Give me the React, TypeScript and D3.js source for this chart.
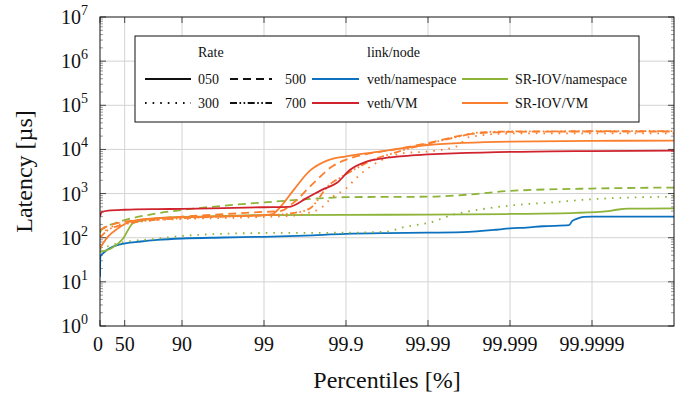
import React, {useEffect} from 'react';
import * as d3 from 'd3';

// x values are "nines": -log10(1 - p/100); y values are latency in µs
const percentileTicks = [0, 50, 90, 99, 99.9, 99.99, 99.999, 99.9999];
const yExponents = [0, 1, 2, 3, 4, 5, 6, 7];

const vethNs050 = [
    [0, 13], [0.005, 38], [0.04, 45], [0.22, 69], [0.5, 82], [0.7, 89], [1, 96], [1.5, 101],
    [2, 105], [2.5, 112], [3, 122], [3.5, 127], [4, 130], [4.5, 136], [4.8, 150], [5, 162],
    [5.2, 170], [5.4, 182], [5.72, 192], [5.76, 240], [5.82, 270], [5.9, 295], [6, 300], [7, 300],
];
const vethVm050 = [
    [0, 300], [0.02, 380], [0.1, 410], [0.3, 430], [0.7, 445], [1, 450], [1.5, 470], [2, 490],
    [2.3, 500], [2.52, 790], [2.7, 1200], [2.89, 1750], [3.05, 3450], [3.25, 5300], [3.45, 6300],
    [3.8, 7300], [4.15, 7900], [4.84, 8700], [5.5, 9000], [6, 9200], [7, 9400],
];
const sriovNs050 = [
    [0, 48], [0.14, 58], [0.28, 95], [0.4, 213], [0.5, 245], [0.7, 276], [1, 295], [1.5, 310],
    [2, 325], [3, 330], [4, 332], [5, 345], [5.8, 365], [6.2, 400], [6.3, 430], [6.45, 455], [7, 460],
];
const sriovNs500 = [
    [0, 130], [0.016, 150], [0.18, 213], [0.3, 250], [0.7, 357], [1, 425], [1.5, 530], [2, 630],
    [2.5, 740], [3, 830], [4, 850], [4.5, 950], [5, 1150], [6, 1300], [7, 1370],
];
const sriovNs300 = [
    [0, 55], [0.22, 75], [0.7, 95], [1, 110], [2, 128], [3, 130], [3.5, 137], [3.7, 173],
    [3.9, 200], [4, 215], [4.3, 330], [4.6, 425], [5, 535], [5.5, 630], [6, 745], [7, 850],
];
const sriovVm050 = [
    [0, 58], [0.1, 107], [0.22, 163], [0.38, 233], [0.7, 276], [1, 290], [1.5, 305], [2, 325],
    [2.1, 340], [2.2, 500], [2.36, 1200], [2.56, 3300], [2.76, 5500], [3, 7000], [3.41, 8900],
    [4, 12600], [5, 15000], [6, 15600], [7, 15800],
];
const sriovVm500 = [
    [0, 150], [0.1, 185], [0.3, 230], [0.7, 270], [1, 300], [1.5, 340], [2, 385], [2.2, 400],
    [2.35, 600], [2.6, 1700], [2.83, 4100], [2.96, 5500], [3.2, 7500], [3.6, 10000], [4, 14000],
    [4.5, 22000], [5, 25000], [6, 25500], [7, 25500],
];
const sriovVm300 = [
    [0, 107], [0.1, 160], [0.3, 210], [0.7, 250], [1, 265], [1.5, 280], [2, 295], [2.4, 320],
    [2.55, 370], [2.68, 450], [2.84, 850], [3, 1300], [3.13, 2300], [3.3, 4100], [3.5, 6500],
    [3.7, 8200], [4, 9000], [4.35, 11700], [4.5, 19000], [5, 23000], [7, 23000],
];
const sriovVm700 = [
    [0, 100], [0.1, 150], [0.3, 200], [0.7, 255], [1, 275], [1.5, 300], [2, 320], [2.3, 350],
    [2.55, 450], [2.8, 1600], [2.93, 2300], [3.1, 3500], [3.3, 5500], [3.6, 8500], [4, 13500],
    [4.4, 20000], [4.6, 24000], [5, 25500], [7, 26000],
];

const colors = {
    blue: '#0c72c0',
    red: '#d0232e',
    green: '#8db439',
    orange: '#fa7f2e',
};

const dashes = {
    '050': null,
    '500': '8 5',
    '300': '1.6 6',
    '700': '7 2.5 1.6 2.5 1.6 2.5',
};

const series = [
    {data: vethNs050, color: colors.blue, rate: '050'},
    {data: sriovNs050, color: colors.green, rate: '050'},
    {data: sriovNs500, color: colors.green, rate: '500'},
    {data: sriovNs300, color: colors.green, rate: '300'},
    {data: sriovVm300, color: colors.orange, rate: '300'},
    {data: sriovVm700, color: colors.orange, rate: '700'},
    {data: sriovVm500, color: colors.orange, rate: '500'},
    {data: sriovVm050, color: colors.orange, rate: '050'},
    {data: vethVm050, color: colors.red, rate: '050'},
];

const legendItems = [
    {x: 145, w: 46, tx: 198, row: 0, label: '050', stroke: '#111', rate: '050'},
    {x: 230, w: 42, tx: 285, row: 0, label: '500', stroke: '#111', rate: '500'},
    {x: 145, w: 46, tx: 198, row: 1, label: '300', stroke: '#111', rate: '300'},
    {x: 230, w: 42, tx: 285, row: 1, label: '700', stroke: '#111', rate: '700'},
    {x: 312, w: 47, tx: 367, row: 0, label: 'veth/namespace', stroke: colors.blue, rate: '050'},
    {x: 462, w: 46, tx: 515, row: 0, label: 'SR-IOV/namespace', stroke: colors.green, rate: '050'},
    {x: 312, w: 47, tx: 367, row: 1, label: 'veth/VM', stroke: colors.red, rate: '050'},
    {x: 462, w: 46, tx: 515, row: 1, label: 'SR-IOV/VM', stroke: colors.orange, rate: '050'},
];

const width = 691;
const height = 396;
const margin = {top: 17, right: 17, bottom: 70, left: 100};
const FONT = "'Liberation Serif', 'Times New Roman', Times, 'DejaVu Serif', serif";

const App = () => {
    useEffect(() => {
        document.body.style.margin = '0';
    }, []);

    const x = d3.scaleLinear().domain([0, 7]).range([margin.left, width - margin.right]);
    const y = d3.scaleLog().domain([1, 1e7]).range([height - margin.bottom, margin.top]);
    const nines = p => (p === 0 ? 0 : -Math.log10(1 - p / 100));

    const line = d3.line()
        .x(d => x(d[0]))
        .y(d => y(d[1]))
        .curve(d3.curveMonotoneX);

    const [x0, x1] = x.range();
    const [yb, yt] = y.range();

    const minorY = [];
    for (let e = 0; e < 7; e++) {
        for (let m = 2; m <= 9; m++) minorY.push(m * Math.pow(10, e));
    }

    const textStyle = {fontFamily: FONT};

    return (
        <svg width={width} height={height} style={{display: 'block', fontFamily: FONT}}>
            <defs>
                <clipPath id="plot-clip">
                    <rect x={x0} y={yt} width={x1 - x0} height={yb - yt}/>
                </clipPath>
            </defs>

            {/* grid */}
            {percentileTicks.slice(1).map(p => (
                <line key={'gx' + p} x1={x(nines(p))} x2={x(nines(p))} y1={yt} y2={yb}
                      stroke="#d3d3d3" strokeWidth={1}/>
            ))}
            {yExponents.slice(1, -1).map(e => (
                <line key={'gy' + e} x1={x0} x2={x1} y1={y(Math.pow(10, e))} y2={y(Math.pow(10, e))}
                      stroke="#d3d3d3" strokeWidth={1}/>
            ))}

            {/* ticks */}
            {minorY.map(v => (
                <g key={'my' + v} stroke="#555" strokeWidth={0.6}>
                    <line x1={x0} x2={x0 + 3} y1={y(v)} y2={y(v)}/>
                    <line x1={x1 - 3} x2={x1} y1={y(v)} y2={y(v)}/>
                </g>
            ))}
            {yExponents.map(e => (
                <g key={'ty' + e} stroke="#222" strokeWidth={0.8}>
                    <line x1={x0} x2={x0 + 6} y1={y(Math.pow(10, e))} y2={y(Math.pow(10, e))}/>
                    <line x1={x1 - 6} x2={x1} y1={y(Math.pow(10, e))} y2={y(Math.pow(10, e))}/>
                </g>
            ))}
            {percentileTicks.map(p => (
                <g key={'tx' + p} stroke="#222" strokeWidth={0.8}>
                    <line x1={x(nines(p))} x2={x(nines(p))} y1={yb} y2={yb - 6}/>
                    <line x1={x(nines(p))} x2={x(nines(p))} y1={yt} y2={yt + 6}/>
                </g>
            ))}

            {/* data */}
            <g clipPath="url(#plot-clip)">
                {series.map((s, i) => (
                    <path key={i} d={line(s.data)} fill="none" stroke={s.color} strokeWidth={1.8}
                          strokeDasharray={dashes[s.rate] || undefined} strokeLinejoin="round"/>
                ))}
            </g>

            {/* frame */}
            <rect x={x0} y={yt} width={x1 - x0} height={yb - yt} fill="none" stroke="#111" strokeWidth={1}/>

            {/* tick labels */}
            {percentileTicks.map(p => (
                <text key={'lx' + p} x={x(nines(p)) - (p === 0 ? 2 : 0)} y={351} textAnchor="middle"
                      style={textStyle} fontSize={20} fill="#111">{p}</text>
            ))}
            {yExponents.map(e => (
                <text key={'ly' + e} x={88} y={y(Math.pow(10, e)) + 7} textAnchor="end" style={textStyle}
                      fontSize={20} fill="#111">
                    10<tspan dy={-9} fontSize={14}>{e}</tspan>
                </text>
            ))}

            {/* axis titles */}
            <text x={(x0 + x1) / 2} y={388} textAnchor="middle" style={textStyle} fontSize={24}
                  fill="#111">Percentiles [%]</text>
            <text transform={`translate(32, ${(yt + yb) / 2}) rotate(-90)`} textAnchor="middle"
                  style={textStyle} fontSize={24} fill="#111">Latency [µs]</text>

            {/* legend */}
            <g style={textStyle} fontSize={14} fill="#111">
                <rect x={135} y={36} width={504} height={86} fill="white" stroke="#111" strokeWidth={1}/>
                <text x={198} y={57}>Rate</text>
                <text x={367} y={57}>link/node</text>
                {legendItems.map(item => {
                    const cy = item.row === 0 ? 79 : 103;
                    return (
                        <g key={item.label}>
                            <line x1={item.x} x2={item.x + item.w} y1={cy} y2={cy} stroke={item.stroke}
                                  strokeWidth={1.8} strokeDasharray={dashes[item.rate] || undefined}/>
                            <text x={item.tx} y={cy + 5}>{item.label}</text>
                        </g>
                    );
                })}
            </g>
        </svg>
    );
};

export default App;
